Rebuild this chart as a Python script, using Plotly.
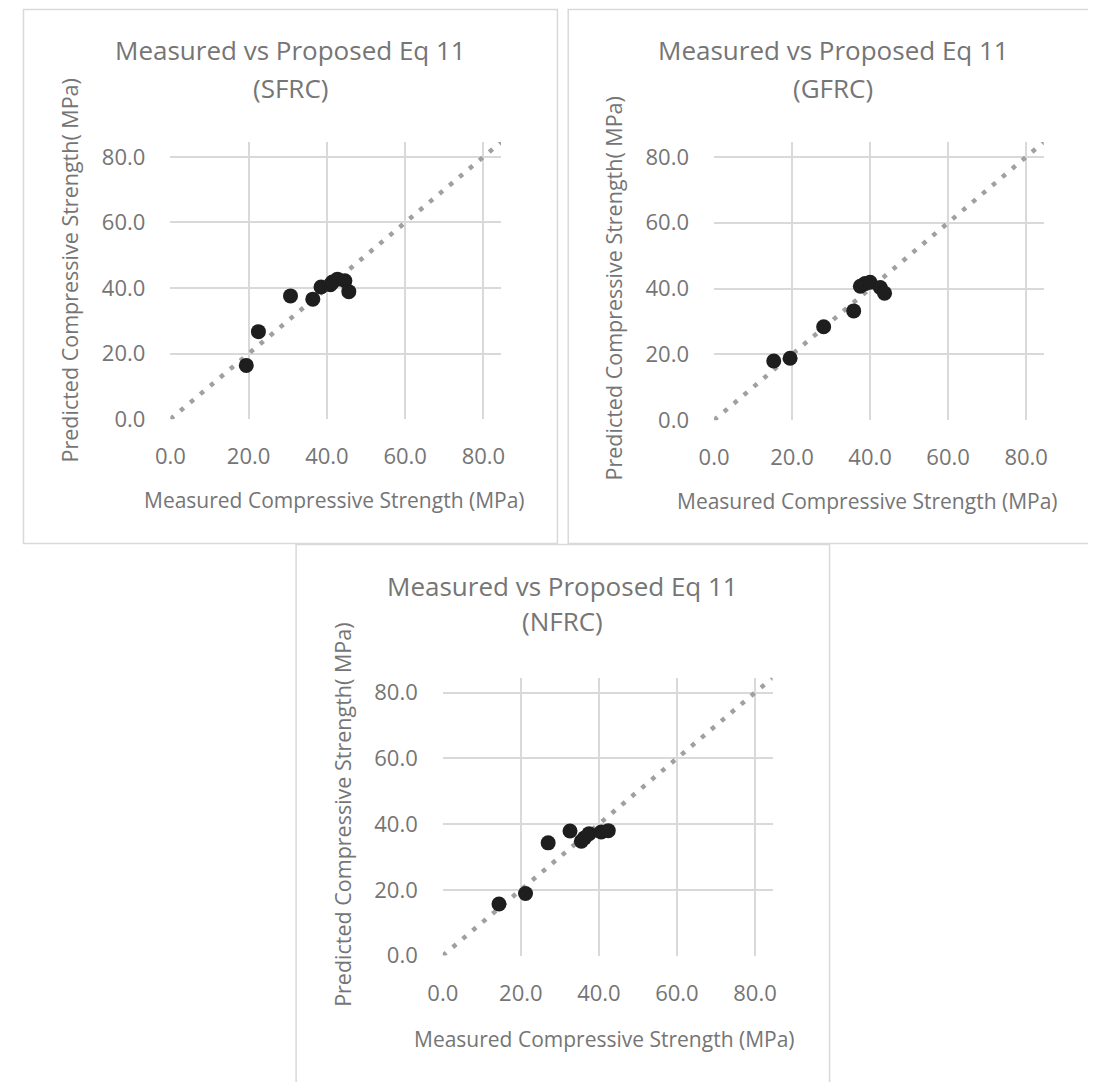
import plotly.graph_objects as go

# Page: 1096x1090 window; the default body margin (8px) surrounds the figure,
# so the figure is 1080x1074 and screen coordinates are offset by 8px.
PAGE_W, PAGE_H = 1096, 1090
OFF = 8
W, H = PAGE_W - 2 * OFF, PAGE_H - 2 * OFF

# ---- data ----
SFRC_MEASURED = [19.4, 22.5, 30.7, 36.4, 38.5, 40.9, 41.4, 42.7, 44.6, 45.6]
SFRC_PREDICTED = [16.4, 26.7, 37.6, 36.6, 40.3, 41.0, 41.8, 42.7, 42.2, 38.9]

GFRC_MEASURED = [15.3, 19.5, 28.1, 35.8, 37.5, 38.7, 40.0, 42.6, 43.7]
GFRC_PREDICTED = [18.0, 18.8, 28.4, 33.2, 40.7, 41.5, 41.9, 40.3, 38.6]

NFRC_MEASURED = [14.4, 21.2, 27.0, 32.6, 35.5, 36.3, 37.5, 40.6, 42.4]
NFRC_PREDICTED = [15.7, 18.9, 34.3, 37.9, 34.8, 35.8, 37.1, 37.6, 38.0]

LINE_X = [0, 84.5]
LINE_Y = [0, 84.5]

TICK_VALS = [0, 20, 40, 60, 80]
TICK_TEXT = ["0.0", "20.0", "40.0", "60.0", "80.0"]

TITLES = ["Measured vs Proposed Eq 11", "(SFRC)", "(GFRC)", "(NFRC)"]
X_TITLE = "Measured Compressive Strength (MPa)"
Y_TITLE = "Predicted Compressive Strength( MPa)"

TEXT = "#757575"
GRID = "#d9d9d9"
FONT = "Open Sans"

def px(x):
    return (x - OFF) / W

def py(y):
    return 1 - (y - OFF) / H

panels = [
    dict(x=SFRC_MEASURED, y=SFRC_PREDICTED, sub=TITLES[1],
         area=(158, 494.6, 143, 424), box=(8.5, 552, 8.5, 550),
         tcx=280, t1=50, t2=88, xt=(325, 506), yt=(55, 273)),
    dict(x=GFRC_MEASURED, y=GFRC_PREDICTED, sub=TITLES[2],
         area=(711.4, 1047, 143, 425), box=(563, 1100, 8.5, 550),
         tcx=833, t1=50, t2=88, xt=(868, 507), yt=(609, 291)),
    dict(x=NFRC_MEASURED, y=NFRC_PREDICTED, sub=TITLES[3],
         area=(435.3, 771, 686.3, 968), box=(286, 829, 551, 1100),
         tcx=557, t1=593, t2=629, xt=(600, 1053), yt=(333, 825)),
]

fig = go.Figure()
shapes = []
annotations = []

for i, p in enumerate(panels, start=1):
    xa = "x" if i == 1 else f"x{i}"
    ya = "y" if i == 1 else f"y{i}"
    l, r, t, b = p["area"]
    fig.add_trace(go.Scatter(
        x=LINE_X, y=LINE_Y, mode="lines", xaxis=xa, yaxis=ya,
        line=dict(color="#a0a0a0", width=4.5, dash="4.5px,8.5px"),
        hoverinfo="skip", showlegend=False))
    fig.add_trace(go.Scatter(
        x=p["x"], y=p["y"], mode="markers", xaxis=xa, yaxis=ya,
        marker=dict(color="#1e1e1e", size=15, line=dict(width=0)),
        showlegend=False))
    axis_common = dict(
        range=[0, 84.5], tickvals=TICK_VALS, ticktext=TICK_TEXT,
        showgrid=True, gridcolor=GRID, gridwidth=2,
        zeroline=False, showline=False,
        tickfont=dict(family=FONT, size=22, color=TEXT),
        fixedrange=True,
    )
    fig.update_layout(**{
        ("xaxis" if i == 1 else f"xaxis{i}"): dict(
            axis_common, domain=[px(l), px(r)], anchor=ya, ticklabelstandoff=22),
        ("yaxis" if i == 1 else f"yaxis{i}"): dict(
            axis_common, domain=[py(b), py(t)], anchor=xa, ticklabelstandoff=24),
    })
    bl, br, bt, bb = p["box"]
    shapes.append(dict(type="rect", xref="paper", yref="paper",
                       x0=px(bl), x1=px(br), y0=py(bb), y1=py(bt),
                       line=dict(color=GRID, width=1.5), layer="below"))
    annotations += [
        dict(text=TITLES[0], x=px(p["tcx"]), y=py(p["t1"]), xref="paper", yref="paper",
             showarrow=False, xanchor="center", yanchor="middle",
             font=dict(family=FONT, size=26, color=TEXT)),
        dict(text=p["sub"], x=px(p["tcx"]), y=py(p["t2"]), xref="paper", yref="paper",
             showarrow=False, xanchor="center", yanchor="middle",
             font=dict(family=FONT, size=26, color=TEXT)),
        dict(text=X_TITLE, x=px(p["xt"][0]), y=py(p["xt"][1]), xref="paper", yref="paper",
             showarrow=False, xanchor="center", yanchor="middle",
             font=dict(family=FONT, size=21, color=TEXT)),
        dict(text=Y_TITLE, x=px(p["yt"][0]), y=py(p["yt"][1]), xref="paper", yref="paper",
             showarrow=False, xanchor="center", yanchor="middle", textangle=-90,
             font=dict(family=FONT, size=21.5, color=TEXT)),
    ]

fig.update_layout(
    width=W, height=H,
    margin=dict(l=0, r=0, t=0, b=0),
    paper_bgcolor="white", plot_bgcolor="white",
    shapes=shapes, annotations=annotations,
    showlegend=False,
)

fig.write_html("out.html", config={"displayModeBar": False})
